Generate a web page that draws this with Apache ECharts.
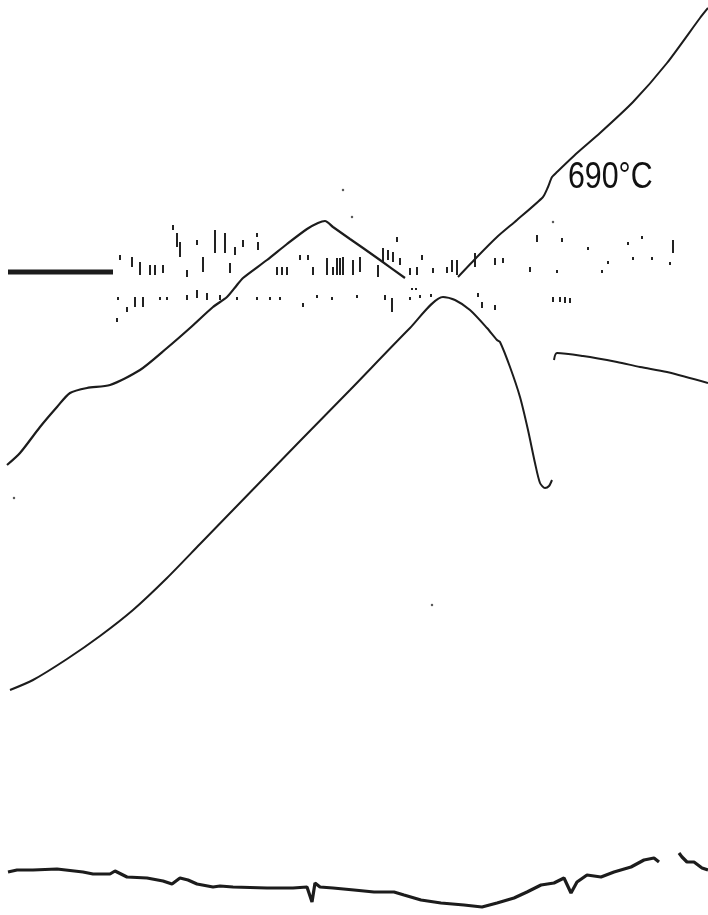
<!DOCTYPE html>
<html>
<head>
<meta charset="utf-8">
<script src="https://cdn.jsdelivr.net/npm/echarts@6/dist/echarts.min.js"></script>
<style>
html,body{margin:0;padding:0;background:#fff;}
#c{width:708px;height:915px;}
</style>
</head>
<body>
<div id="c"></div>
<script>
// Trace values (x = time units, y = pen deflection, downward)
var baseLine = [[8,272],[113,272]];
var curveA = [[7,465],[20,453],[40,427],[57,407],[70,393],[87,388],[110,385],[140,370],[167,348],[190,328],[213,307],[227,297],[237,285],[243,278],[267,260],[287,244],[307,229],[318,223],[325,221],[333,227],[350,239],[363,248],[380,260],[405,278]];
var curveD = [[458,277],[477,257],[497,237],[517,220],[543,197],[548,187],[552,177],[557,172],[577,153],[600,133],[633,102],[667,63],[700,18],[708,8]];
var curveC = [[10,690],[33,680],[67,659],[100,636],[133,610],[167,578],[200,544],[233,510],[267,475],[300,441],[350,390],[410,328],[443,297],[455,300],[470,310],[487,328],[497,340],[500,342],[510,367],[520,397],[528,430],[535,463],[540,483],[545,488],[549,486],[552,480]];
var curveC2 = [[554,360],[557,353],[583,356],[617,362],[640,367],[667,372],[708,383]];
var curveE = [[8,872],[17,870],[33,870],[57,869],[83,872],[93,874],[110,874],[115,871],[127,877],[147,878],[163,881],[172,884],[180,878],[188,880],[197,884],[213,887],[220,886],[233,887],[267,888],[293,888],[307,887],[312,902],[315,883],[320,887],[333,888],[354,890],[374,892],[394,892],[404,895],[421,900],[441,903],[464,905],[482,907],[497,903],[514,898],[527,892],[541,885],[554,883],[564,878],[571,893],[577,882],[587,875],[601,877],[614,872],[631,867],[644,860],[654,858],[659,862],null,[679,853],[682,857],[687,862],[694,862],[702,868],[708,870]];
// recorder specks: [x, yTop, yBottom]
var specks = [[120,255,260],[132,257,267],[140,262,275],[150,265,275],[155,265,275],[163,265,273],[173,225,230],[177,233,247],[180,242,257],[187,270,277],[197,240,245],[203,257,272],[215,230,253],[225,233,253],[230,263,273],[235,247,255],[243,240,247],[257,233,237],[258,242,250],[277,267,275],[282,267,275],[287,267,275],[300,255,260],[308,255,260],[313,267,275],[327,258,275],[333,267,275],[340,258,275],
[118,297,300],[127,307,312],[117,318,322],[135,297,307],[143,297,307],[160,297,300],[167,297,300],[187,295,300],[197,290,298],[207,293,300],[220,295,300],[237,297,300],[257,297,300],[270,297,300],[280,297,300],[317,295,298],[332,297,300],[303,303,307],
[337,258,275],[343,257,275],[353,260,275],[360,257,272],[378,265,277],[383,248,263],[388,250,260],[393,252,262],[397,237,242],[400,258,265],[410,268,275],[417,267,275],[422,255,260],[433,268,273],[447,267,273],[452,260,272],[457,260,275],[475,253,267],[495,258,265],[503,258,263],[530,267,272],[537,235,242],[557,270,273],[562,238,242],
[357,295,298],[385,295,300],[392,298,312],[410,297,300],[420,295,298],[478,293,297],[482,302,308],[495,305,310],[553,297,302],[560,297,302],[565,297,303],[570,298,303],
[588,247,250],[608,261,264],[602,270,273],[628,242,245],[633,257,260],[642,236,239],[652,257,260],[670,262,265],[673,240,253],[412,288,290],[416,288,290],[431,294,297]];
var dots = [[343,190],[432,605],[553,222],[352,217],[14,498]];
var labelText = ['690°C'];
var labelPos = [[568,178]];

var chart = echarts.init(document.getElementById('c'), null, {renderer:'canvas'});
var ink = '#1c1c1c';
function lineSeries(data, w, smooth){
  return {type:'line', data:data, showSymbol:false, symbol:'none', smooth:smooth, connectNulls:false,
    lineStyle:{color:ink, width:w}, silent:true, z:3};
}
chart.setOption({
  backgroundColor:'#ffffff',
  animation:false,
  grid:{left:0,right:0,top:0,bottom:0},
  xAxis:{type:'value', min:0, max:708, show:false},
  yAxis:{type:'value', min:0, max:915, inverse:true, show:false},
  series:[
    lineSeries(baseLine, 5, false),
    lineSeries(curveA, 2.2, 0.25),
    lineSeries(curveD, 2, 0.2),
    lineSeries(curveC, 2, 0.25),
    lineSeries(curveC2, 2, 0.3),
    lineSeries(curveE, 3.2, false),
    {type:'custom', data:specks, encode:{x:0, y:[1,2]}, silent:true, z:2,
      renderItem:function(params, api){
        var p1 = api.coord([api.value(0), api.value(1)]);
        var p2 = api.coord([api.value(0), api.value(2)]);
        return {type:'line', shape:{x1:p1[0],y1:p1[1],x2:p2[0],y2:p2[1]},
          style:{stroke:'#222', lineWidth:2}};
      }},
    {type:'scatter', data:dots, symbol:'circle', symbolSize:2.5, itemStyle:{color:'#333'}, silent:true}
  ]
});
var labels = labelPos.map(function(p, i){
  var px = chart.convertToPixel({xAxisIndex:0, yAxisIndex:0}, p);
  return {type:'text', x:px[0], y:px[1], scaleX:0.82, scaleY:1, silent:true,
    style:{text:labelText[i], fontFamily:'Liberation Sans, Arial, sans-serif', fontSize:37,
      fill:'#111', textVerticalAlign:'middle', textAlign:'left'}};
});
chart.setOption({graphic:labels});
</script>
</body>
</html>
